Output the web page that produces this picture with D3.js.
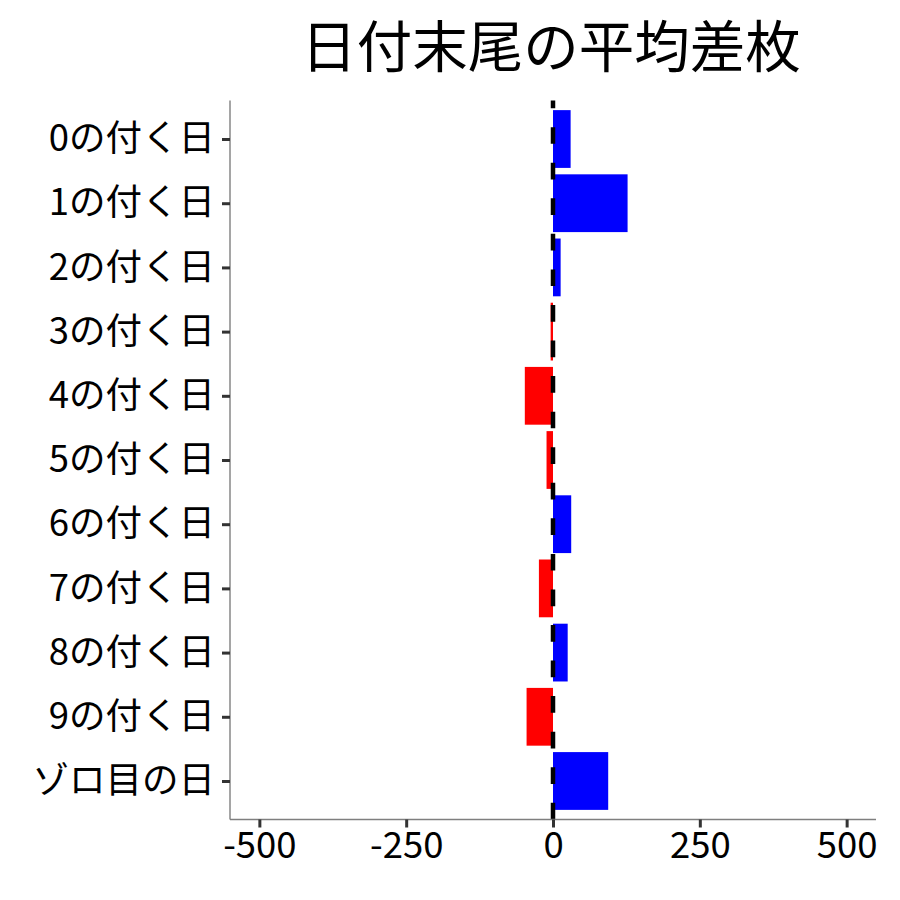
<!DOCTYPE html>
<html><head><meta charset="utf-8">
<script src="https://cdn.jsdelivr.net/npm/d3@7"></script>
<style>body{margin:0;background:#fff}</style>
</head><body>
<svg id="c" width="900" height="900"></svg>
<script>
const categories = ["0の付く日","1の付く日","2の付く日","3の付く日","4の付く日","5の付く日","6の付く日","7の付く日","8の付く日","9の付く日","ゾロ目の日"];
const values = [30, 127, 13, -4, -48, -11, 31, -24, 25, -45, 94];
const xTicks = [-500, -250, 0, 250, 500];
const title = "日付末尾の平均差枚";

const svg = d3.select("#c");
const font = "'Noto Sans CJK JP', 'Noto Sans', sans-serif";
const L = 230, R = 876, T = 100.5, B = 819.5;

const x = d3.scaleLinear().domain([-550, 550]).range([L, R]);
const step = (B - T) / (categories.length - 1 + 1.2);
const y = d3.scalePoint().domain(categories).range([T + 0.6*step, B - 0.6*step]);
const bh = step * 0.9;

// bars
svg.append("g").selectAll("rect").data(categories).join("rect")
  .attr("x", (d,i) => x(Math.min(0, values[i])))
  .attr("width", (d,i) => Math.abs(x(values[i]) - x(0)))
  .attr("y", d => y(d) - bh/2)
  .attr("height", bh)
  .attr("fill", (d,i) => values[i] >= 0 ? "#0000FF" : "#FF0000");

// dashed zero line
svg.append("defs").append("clipPath").attr("id","pc").append("rect")
  .attr("x", L).attr("y", T).attr("width", R-L).attr("height", B-T);
svg.append("line")
  .attr("clip-path","url(#pc)")
  .attr("x1", x(0)).attr("x2", x(0)).attr("y1", B).attr("y2", T - 40)
  .attr("stroke", "#000").attr("stroke-width", 4.5)
  .attr("stroke-dasharray", "16.7,18.86");

// y axis
const ya = svg.append("g").attr("transform", `translate(${L},0)`)
  .call(d3.axisLeft(y).tickSize(8).tickPadding(7));
ya.select(".domain").attr("d", `M0,${T}V${B}`).attr("stroke", "#7f7f7f").attr("stroke-width", 1.4);
ya.selectAll(".tick line").attr("stroke", "#333").attr("stroke-width", 3);
ya.selectAll(".tick text").attr("font-family", font).attr("font-size", 36.5).attr("fill", "#000");

// x axis
const xa = svg.append("g").attr("transform", `translate(0,${B})`)
  .call(d3.axisBottom(x).tickValues(xTicks).tickFormat(d3.format("d")).tickSize(8).tickPadding(5));
xa.select(".domain").attr("d", `M${L},0H${R}`).attr("stroke", "#7f7f7f").attr("stroke-width", 1.4);
xa.selectAll(".tick line").attr("stroke", "#333").attr("stroke-width", 3);
xa.selectAll(".tick text").attr("font-family", font).attr("font-size", 36.5).attr("fill", "#000")
  .text(d => d < 0 ? "-" + Math.abs(d) : d);

// title
svg.append("text").attr("x", (L+R)/2 - 2).attr("y", 67).attr("text-anchor","middle")
  .attr("font-family", font).attr("font-size", 55.5).attr("fill", "#000").text(title);
</script>
</body></html>
